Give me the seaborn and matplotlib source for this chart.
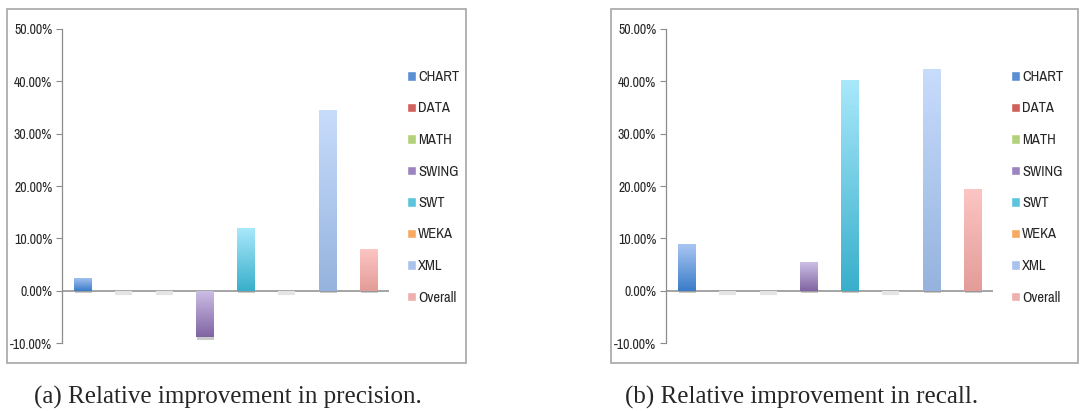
import numpy as np
import matplotlib
matplotlib.use("Agg")
import matplotlib.pyplot as plt
import matplotlib.patheffects as pe
from matplotlib.colors import LinearSegmentedColormap
from matplotlib.patches import Patch, Rectangle
import seaborn as sns

# data
categorias = ["CHART", "DATA", "MATH", "SWING", "SWT", "WEKA", "XML", "Overall"]
precisao = [2.5, 0.0, 0.0, -8.9, 12.0, 0.0, 34.5, 8.0]
recall = [8.85, 0.0, 0.0, 5.4, 40.3, 0.0, 42.4, 19.35]
yticks = [-10, 0, 10, 20, 30, 40, 50]
legendas = ["(a) Relative improvement in precision.", "(b) Relative improvement in recall."]

# cores (topo claro -> base escura), estilo Excel
cor_topo = ["#A9C6F2", "#F0A19E", "#D4E6A8", "#CDBFE6", "#A9E8FB", "#FDC08A", "#C8DCFC", "#FCC5C3"]
cor_base = ["#3A7CC8", "#C0504D", "#9BBB59", "#8064A2", "#38AFCB", "#F79646", "#95B3DE", "#E39C98"]
cor_meio = ["#5B8FD3", "#D0605C", "#B2D17A", "#9C84C0", "#5CC4DD", "#F9A862", "#A9C3EB", "#EFAFAC"]

sns.set_style("white")
plt.rcParams["font.family"] = ["Archivo Narrow", "Liberation Sans", "DejaVu Sans"]

W, H = 1081, 411
fig = plt.figure(figsize=(W / 100, H / 100), dpi=100)


def preencher_gradiente(ax, barra, topo, base):
    h = barra.get_height()
    if h == 0:
        return
    x0, y0, w = barra.get_x(), barra.get_y(), barra.get_width()
    ylo, yhi = min(y0, y0 + h), max(y0, y0 + h)
    cmap = LinearSegmentedColormap.from_list("g", [base, topo])
    grad = np.linspace(0, 1, 256).reshape(-1, 1)
    im = ax.imshow(grad, cmap=cmap, extent=[x0, x0 + w, ylo, yhi], origin="lower",
                   aspect="auto", interpolation="bilinear", zorder=barra.get_zorder() + 0.1)
    im.set_clip_path(barra)


def painel(ax, valores):
    sns.barplot(x=categorias, y=valores, hue=categorias, palette=cor_meio, width=0.42,
                saturation=1, legend=False, ax=ax, zorder=3)
    for barra, topo, base in zip(ax.patches, cor_topo, cor_base):
        barra.set_linewidth(0)
        barra.set_edgecolor("none")
        if barra.get_height() == 0:
            barra.set_path_effects([pe.Stroke(linewidth=3, foreground="#e4e4e4", offset=(0, -1.5))])
        else:
            barra.set_path_effects([pe.SimplePatchShadow(offset=(0.6, -1.8), shadow_rgbFace="#8a8a8a", alpha=0.45),
                                    pe.Normal()])
            preencher_gradiente(ax, barra, topo, base)
    ax.axhline(0, color="#8c8c8c", lw=1.1, zorder=2)
    ax.set_xlim(-0.5, len(categorias) - 0.5)
    ax.set_ylim(-10, 50)
    ax.set_xticks([])
    ax.set_yticks(yticks)
    ax.set_yticklabels([f"{v:.2f}%" for v in yticks])
    ax.tick_params(axis="y", left=True, length=4, width=0.8, color="#8c8c8c", pad=3, labelsize=10)
    for lado in ["top", "right", "bottom"]:
        ax.spines[lado].set_visible(False)
    ax.spines["left"].set_color("#8c8c8c")
    ax.spines["left"].set_linewidth(0.9)
    ax.set_xlabel("")
    ax.set_ylabel("")


alturas = (H - 343) / H, 314 / H
ax1 = fig.add_axes([62 / W, alturas[0], 327 / W, alturas[1]])
ax2 = fig.add_axes([666 / W, alturas[0], 327 / W, alturas[1]])
painel(ax1, precisao)
painel(ax2, recall)

# molduras cinzas de cada gráfico
for x0, larg in [(7, 459), (611, 467)]:
    fig.patches.append(Rectangle((x0 / W, (H - 363) / H), larg / W, 354 / H, transform=fig.transFigure,
                                 fill=False, edgecolor="#a6a6a6", lw=1.2))

# legendas das séries
handles = [Patch(facecolor=c) for c in cor_meio]
for x_leg in [407, 1011]:
    fig.legend(handles, categorias, loc="upper left", bbox_to_anchor=(x_leg / W, (H - 70) / H),
               frameon=False, fontsize=10.5, handlelength=0.62, handleheight=0.62,
               handletextpad=0.15, labelspacing=1.2, borderpad=0, borderaxespad=0)

# captions
for xc, texto in zip([228, 802], legendas):
    fig.text(xc / W, (H - 397) / H, texto, ha="center", va="center", fontsize=18,
             family=["Liberation Serif", "DejaVu Serif"])

fig.savefig("out.png", dpi=100)
